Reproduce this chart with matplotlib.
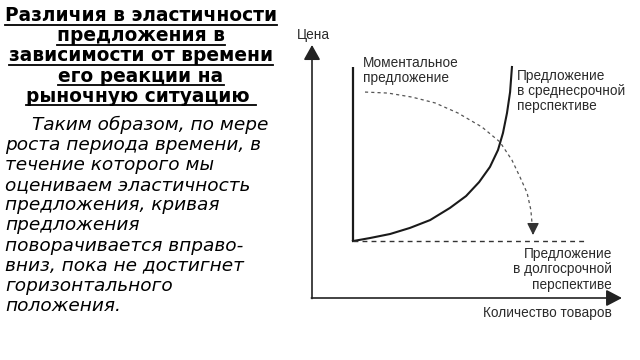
import matplotlib
matplotlib.use("Agg")
import matplotlib.pyplot as plt
from matplotlib.lines import Line2D

# ---------------- texts of the slide ----------------
title_lines = ["Различия в эластичности", "предложения в", "зависимости от времени",
               "его реакции на", "рыночную ситуацию "]
body_lines = ["Таким образом, по мере", "роста периода времени, в", "течение которого мы",
              "оцениваем эластичность", "предложения, кривая", "предложения",
              "поворачивается вправо-", "вниз, пока не достигнет", "горизонтального",
              "положения."]

# ---------------- diagram data (quantity, price in 0..10 units) ----------------
momentary_q = [1.32, 1.32]
momentary_p = [2.25, 9.13]

medium_q = [1.32, 1.87, 2.52, 3.16, 3.81, 4.45, 4.97, 5.39, 5.74, 6.00, 6.16, 6.29, 6.39, 6.45]
medium_p = [2.25, 2.37, 2.53, 2.77, 3.08, 3.56, 4.03, 4.58, 5.18, 5.85, 6.52, 7.31, 8.14, 9.13]

long_q = [1.32, 8.87]
long_p = [2.25, 2.25]

shift_q = [1.71, 2.45, 3.23, 3.97, 4.71, 5.48, 6.06, 6.45, 6.71, 6.94, 7.06, 7.13]
shift_p = [8.14, 8.10, 7.94, 7.71, 7.31, 6.76, 6.17, 5.45, 4.78, 4.15, 3.48, 2.49]

W, H = 640, 360
fig = plt.figure(figsize=(6.4, 3.6), dpi=100)
fig.patch.set_facecolor("white")

# ---------------- left column text ----------------
title_texts = []
for i, line in enumerate(title_lines):
    t = fig.text(141 / W, 1 - (21 + 20.2 * i) / H, line, ha="center", va="baseline",
                 fontsize=13.4, fontweight="bold", family="DejaVu Sans", color="black")
    title_texts.append(t)

for i, line in enumerate(body_lines):
    x = 32 if i == 0 else 5
    fig.text(x / W, 1 - (130 + 20.1 * i) / H, line, ha="left", va="baseline",
             fontsize=13.3, style="italic", family="DejaVu Sans", color="black")

# underline the title
fig.canvas.draw()
renderer = fig.canvas.get_renderer()
for i, t in enumerate(title_texts):
    bb = t.get_window_extent(renderer)
    yb = H - (21 + 20.2 * i) - 3.5
    fig.add_artist(Line2D([bb.x0, bb.x1], [yb, yb], transform=None, color="black", lw=1.3))

# ---------------- diagram ----------------
ax = fig.add_axes([312 / W, 62 / H, 310 / W, 253 / H])
ax.set_xlim(0, 10)
ax.set_ylim(0, 10)
ax.axis("off")

ax.annotate("", xy=(0, 10), xytext=(0, -0.02),
            arrowprops=dict(arrowstyle="-|>,head_length=0.75,head_width=0.42", color="#222222",
                            lw=1.2, mutation_scale=12, shrinkA=0, shrinkB=0), annotation_clip=False)
ax.annotate("", xy=(10, 0), xytext=(-0.02, 0),
            arrowprops=dict(arrowstyle="-|>,head_length=0.8,head_width=0.42", color="#222222",
                            lw=1.2, mutation_scale=12, shrinkA=0, shrinkB=0), annotation_clip=False)

line_col = "#1a1a1a"
ax.plot(momentary_q, momentary_p, color=line_col, lw=1.6, solid_capstyle="butt", clip_on=False)
ax.plot(medium_q, medium_p, color=line_col, lw=1.5, solid_joinstyle="round", clip_on=False)
ax.plot(long_q, long_p, color="#333333", lw=1.0, linestyle=(0, (3.5, 3)), clip_on=False)
ax.plot(shift_q, shift_p, color="#555555", lw=0.9, linestyle=(0, (2.5, 2.5)), clip_on=False)
# arrow head only, at the end of the dashed shift curve
ax.annotate("", xy=(shift_q[-1], shift_p[-1]), xytext=(0, 7), textcoords="offset points",
            arrowprops=dict(arrowstyle="-|>,head_length=0.6,head_width=0.3", color="#333333",
                            lw=0.9, mutation_scale=12, shrinkA=0, shrinkB=0))

lab = dict(family="Liberation Sans", fontsize=9.8, color="#2a2a2a", linespacing=1.1)
ax.text(-0.48, 10.4, "Цена", ha="left", va="center", **lab)
ax.text(1.65, 9.55, "Моментальное\nпредложение", ha="left", va="top", **lab)
ax.text(6.61, 9.05, "Предложение\nв среднесрочной\nперспективе", ha="left", va="top", **lab)
ax.text(9.68, 2.0, "Предложение\nв долгосрочной\nперспективе", ha="right", va="top",
        multialignment="right", **lab)
ax.text(9.68, -0.6, "Количество товаров", ha="right", va="center", **lab)

fig.savefig("out.png", dpi=100, facecolor="white")
